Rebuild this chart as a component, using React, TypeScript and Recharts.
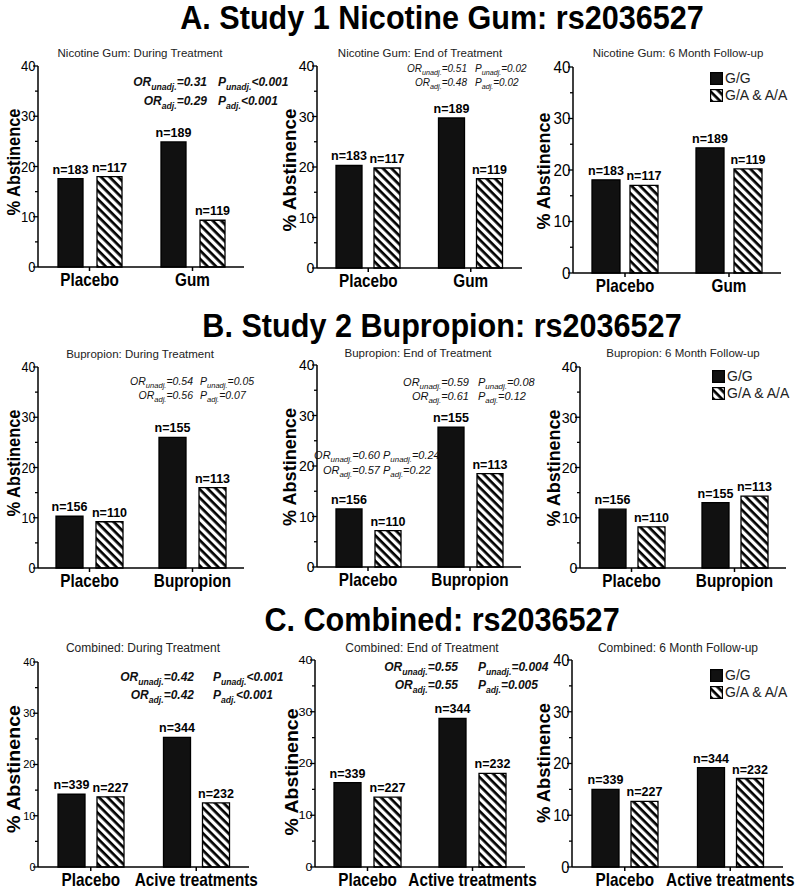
import React from 'react';
import { BarChart, Bar, XAxis, YAxis, LabelList, Legend } from 'recharts';

const FONT = '"Liberation Sans", Arial, Helvetica, sans-serif';

// categories
const catsGum = ['Placebo', 'Gum'];
const catsBup = ['Placebo', 'Bupropion'];
const catsComb = ['Placebo', 'Active treatments'];
const catsCombFirst = ['Placebo', 'Acive treatments']; // spelled this way in the printed panel

const seriesKeys = ['gg', 'ga'];
const seriesNames = ['G/G', 'G/A & A/A'];
const yTicks = [0, 5, 10, 15, 20, 25, 30, 35, 40];

// sample sizes
const nGumGG = [183, 189];
const nGumGA = [117, 119];
const nBupGG = [156, 155];
const nBupGA = [110, 113];
const nCombGG = [339, 344];
const nCombGA = [227, 232];

// % abstinence, study 1 nicotine gum
const gumDuringGG = [17.6, 24.9];
const gumDuringGA = [18.0, 9.3];
const gumEndGG = [20.3, 29.7];
const gumEndGA = [19.8, 17.7];
const gumFollowGG = [18.1, 24.3];
const gumFollowGA = [17.0, 20.2];

// % abstinence, study 2 bupropion
const bupDuringGG = [10.3, 26.0];
const bupDuringGA = [9.2, 16.0];
const bupEndGG = [11.5, 27.7];
const bupEndGA = [7.2, 18.5];
const bupFollowGG = [11.7, 13.0];
const bupFollowGA = [8.2, 14.3];

// % abstinence, combined
const combDuringGG = [14.2, 25.3];
const combDuringGA = [13.7, 12.5];
const combEndGG = [16.3, 28.7];
const combEndGA = [13.5, 18.1];
const combFollowGG = [15.0, 19.2];
const combFollowGA = [12.7, 17.1];

type Note = { orEnd: number; pStart: number; y: number; sub: string; or: string; p: string };
type NoteBlock = { size: number; bold: boolean; lines: Note[] };

type PanelCfg = {
  id: string;
  title: string;
  cats: string[];
  gg: number[];
  ga: number[];
  ggN: number[];
  gaN: number[];
  box: { left: number; top: number; width: number; height: number };
  plot: { x0: number; x1: number; y40: number; y0: number };
  bar: [number, number];
  tick: [number, number];
  yLab: [number, number, number];
  titleAt: [number, number, number];
  legend?: [number, number];
  notes: NoteBlock[];
};

const panels: PanelCfg[] = [
  {
    id: 'a1', title: 'Nicotine Gum: During Treatment', cats: catsGum,
    gg: gumDuringGG, ga: gumDuringGA, ggN: nGumGG, gaN: nGumGA,
    box: { left: 0, top: 40, width: 265, height: 260 }, plot: { x0: 38, x1: 244, y40: 66, y0: 267 },
    bar: [25, 14], tick: [14.5, 0.9], yLab: [13, 162, 107], titleAt: [140, 57, 11.5],
    notes: [{ size: 12, bold: true, lines: [
      { orEnd: 207, pStart: 218, y: 86, sub: 'unadj.', or: '=0.31', p: '<0.001' },
      { orEnd: 207, pStart: 218, y: 105, sub: 'adj.', or: '=0.29', p: '<0.001' },
    ] }],
  },
  {
    id: 'a2', title: 'Nicotine Gum: End of Treatment', cats: catsGum,
    gg: gumEndGG, ga: gumEndGA, ggN: nGumGG, gaN: nGumGA,
    box: { left: 265, top: 40, width: 265, height: 260 }, plot: { x0: 317, x1: 522, y40: 66, y0: 268 },
    bar: [26, 12], tick: [15, 0.95], yLab: [289, 170, 123], titleAt: [420, 57, 11.5],
    notes: [{ size: 10, bold: false, lines: [
      { orEnd: 467, pStart: 475, y: 72, sub: 'unadj.', or: '=0.51', p: '=0.02' },
      { orEnd: 467, pStart: 475, y: 86, sub: 'adj.', or: '=0.48', p: '=0.02' },
    ] }],
  },
  {
    id: 'a3', title: 'Nicotine Gum: 6 Month Follow-up', cats: catsGum,
    gg: gumFollowGG, ga: gumFollowGA, ggN: nGumGG, gaN: nGumGA,
    box: { left: 530, top: 40, width: 270, height: 260 }, plot: { x0: 573, x1: 781, y40: 67, y0: 273 },
    bar: [28, 10], tick: [16, 0.95], yLab: [543, 171, 117], titleAt: [678, 57, 11.5],
    legend: [710, 72], notes: [],
  },
  {
    id: 'b1', title: 'Bupropion: During Treatment', cats: catsBup,
    gg: bupDuringGG, ga: bupDuringGA, ggN: nBupGG, gaN: nBupGA,
    box: { left: 0, top: 330, width: 265, height: 260 }, plot: { x0: 38, x1: 244, y40: 367, y0: 568 },
    bar: [27, 13], tick: [14, 0.9], yLab: [13, 463, 107], titleAt: [140, 358, 11.5],
    notes: [{ size: 10.5, bold: false, lines: [
      { orEnd: 193, pStart: 200, y: 385, sub: 'unadj.', or: '=0.54', p: '=0.05' },
      { orEnd: 193, pStart: 200, y: 399, sub: 'adj.', or: '=0.56', p: '=0.07' },
    ] }],
  },
  {
    id: 'b2', title: 'Bupropion: End of Treatment', cats: catsBup,
    gg: bupEndGG, ga: bupEndGA, ggN: nBupGG, gaN: nBupGA,
    box: { left: 265, top: 330, width: 265, height: 260 }, plot: { x0: 317, x1: 521, y40: 365, y0: 567 },
    bar: [26, 13], tick: [14, 1.0], yLab: [289, 467, 118], titleAt: [418, 357, 11.5],
    notes: [
      { size: 11, bold: false, lines: [
        { orEnd: 469, pStart: 478, y: 386, sub: 'unadj.', or: '=0.59', p: '=0.08' },
        { orEnd: 469, pStart: 478, y: 400, sub: 'adj.', or: '=0.61', p: '=0.12' },
      ] },
      { size: 11, bold: false, lines: [
        { orEnd: 380, pStart: 383, y: 459, sub: 'unadj.', or: '=0.60', p: '=0.24' },
        { orEnd: 380, pStart: 383, y: 474, sub: 'adj.', or: '=0.57', p: '=0.22' },
      ] },
    ],
  },
  {
    id: 'b3', title: 'Bupropion: 6 Month Follow-up', cats: catsBup,
    gg: bupFollowGG, ga: bupFollowGA, ggN: nBupGG, gaN: nBupGA,
    box: { left: 530, top: 330, width: 270, height: 260 }, plot: { x0: 580, x1: 786, y40: 367, y0: 568 },
    bar: [27, 12], tick: [15, 0.95], yLab: [553, 468, 117], titleAt: [683, 357, 11.5],
    legend: [712, 370], notes: [],
  },
  {
    id: 'c1', title: 'Combined: During Treatment', cats: catsCombFirst,
    gg: combDuringGG, ga: combDuringGA, ggN: nCombGG, gaN: nCombGA,
    box: { left: 0, top: 620, width: 265, height: 269 }, plot: { x0: 38, x1: 249, y40: 662, y0: 867 },
    bar: [27, 12], tick: [11, 1.0], yLab: [13, 769, 128], titleAt: [143, 652, 12],
    notes: [{ size: 12, bold: true, lines: [
      { orEnd: 194, pStart: 213, y: 681, sub: 'unadj.', or: '=0.42', p: '<0.001' },
      { orEnd: 194, pStart: 213, y: 699, sub: 'adj.', or: '=0.42', p: '<0.001' },
    ] }],
  },
  {
    id: 'c2', title: 'Combined: End of Treatment', cats: catsComb,
    gg: combEndGG, ga: combEndGA, ggN: nCombGG, gaN: nCombGA,
    box: { left: 265, top: 620, width: 265, height: 269 }, plot: { x0: 315, x1: 525, y40: 660, y0: 867 },
    bar: [27, 13], tick: [11, 1.15], yLab: [291, 772, 127], titleAt: [422, 652, 12],
    notes: [{ size: 12, bold: true, lines: [
      { orEnd: 458, pStart: 478, y: 671, sub: 'unadj.', or: '=0.55', p: '=0.004' },
      { orEnd: 458, pStart: 478, y: 689, sub: 'adj.', or: '=0.55', p: '=0.005' },
    ] }],
  },
  {
    id: 'c3', title: 'Combined: 6 Month Follow-up', cats: catsComb,
    gg: combFollowGG, ga: combFollowGA, ggN: nCombGG, gaN: nCombGA,
    box: { left: 530, top: 620, width: 270, height: 269 }, plot: { x0: 572, x1: 783, y40: 660, y0: 867 },
    bar: [27, 12], tick: [16, 0.92], yLab: [543, 763, 120], titleAt: [678, 652, 12],
    legend: [710, 669], notes: [],
  },
];

const mainTitles = [
  { text: 'A. Study 1 Nicotine Gum: rs2036527', y: 29 },
  { text: 'B. Study 2 Bupropion: rs2036527', y: 337 },
  { text: 'C. Combined: rs2036527', y: 631 },
];

function Hatch({ id }: { id: string }) {
  return (
    <pattern id={id} patternUnits="userSpaceOnUse" width={6} height={6} patternTransform="rotate(45)">
      <rect x={0} y={0} width={6} height={6} fill="#fff" />
      <rect x={0} y={0} width={6} height={2.7} fill="#000" />
    </pattern>
  );
}

function SText({ x, y, sx = 1, anchor = 'middle', size, weight = 'normal', children }: any) {
  return (
    <text
      transform={`translate(${x},${y}) scale(${sx},1)`}
      textAnchor={anchor}
      fontSize={size}
      fontWeight={weight}
      fontFamily={FONT}
      fill="#000"
    >
      {children}
    </text>
  );
}

function YTick(props: any) {
  const { x, y, payload, fs, sx } = props;
  const major = payload.value % 10 === 0;
  return (
    <g>
      {major && (
        <SText x={x - 2.5} y={y + fs * 0.36} sx={sx} anchor="end" size={fs}>
          {payload.value}
        </SText>
      )}
      <line x1={x - (major ? 5 : 3)} x2={x} y1={y} y2={y} stroke="#000" strokeWidth={1.3} />
    </g>
  );
}

function XTick(props: any) {
  const { x, y, payload } = props;
  return (
    <SText x={x} y={y + 15} sx={0.85} size={18} weight="bold">
      {payload.value}
    </SText>
  );
}

function NLabel(props: any) {
  const { x, y, width, value } = props;
  return (
    <text
      x={Number(x) + Number(width) / 2}
      y={Number(y) - 5}
      textAnchor="middle"
      fontSize={12.5}
      fontWeight="bold"
      fontFamily={FONT}
      fill="#000"
    >
      n={value}
    </text>
  );
}

function LegendBox({ id, payload }: any) {
  const items = (payload && payload.length ? payload.slice() : seriesKeys.map((k, i) => ({ dataKey: k, value: seriesNames[i] })))
    .sort((a: any, b: any) => seriesKeys.indexOf(a.dataKey) - seriesKeys.indexOf(b.dataKey));
  return (
    <div style={{ position: 'relative', width: 90, height: 34, fontFamily: FONT }}>
      {items.map((it: any, i: number) => (
        <div key={i} style={{ position: 'absolute', left: 0, top: i * 16.5, height: 16 }}>
          <svg width={13} height={13} style={{ position: 'absolute', left: 0, top: 0 }}>
            <defs>
              <Hatch id={`lg-${id}`} />
            </defs>
            <rect
              x={0.6}
              y={0.6}
              width={11.8}
              height={11.8}
              fill={it.dataKey === 'gg' ? '#111' : `url(#lg-${id})`}
              stroke="#000"
              strokeWidth={1.2}
            />
          </svg>
          <span
            style={{
              position: 'absolute',
              left: 15,
              top: -2,
              fontSize: 14,
              lineHeight: '16px',
              whiteSpace: 'nowrap',
              color: '#222',
            }}
          >
            {it.value}
          </span>
        </div>
      ))}
    </div>
  );
}

function Panel({ p }: { p: PanelCfg }) {
  const { box, plot } = p;
  const data = p.cats.map((c, i) => ({
    cat: c,
    gg: p.gg[i],
    ga: p.ga[i],
    ggN: p.ggN[i],
    gaN: p.gaN[i],
  }));
  const hatchId = `hatch-${p.id}`;
  return (
    <div style={{ position: 'absolute', left: box.left, top: box.top }}>
      <BarChart
        width={box.width}
        height={box.height}
        data={data}
        margin={{ top: plot.y40 - box.top, right: box.left + box.width - plot.x1, left: 0, bottom: 0 }}
        barSize={p.bar[0]}
        barGap={p.bar[1]}
      >
        <defs>
          <Hatch id={hatchId} />
        </defs>
        <XAxis
          dataKey="cat"
          type="category"
          height={box.top + box.height - plot.y0}
          interval={0}
          tickSize={4}
          tickMargin={0}
          axisLine={{ stroke: '#000', strokeWidth: 1.5 }}
          tickLine={{ stroke: '#000', strokeWidth: 1.5 }}
          tick={<XTick />}
        />
        <YAxis
          type="number"
          domain={[0, 40]}
          ticks={yTicks}
          interval={0}
          width={plot.x0 - box.left}
          tickSize={0}
          tickMargin={0}
          tickLine={false}
          axisLine={{ stroke: '#000', strokeWidth: 1.5 }}
          tick={(props: any) => <YTick {...props} fs={p.tick[0]} sx={p.tick[1]} />}
        />
        <Bar dataKey="gg" name={seriesNames[0]} fill="#111" stroke="#000" strokeWidth={1.3} isAnimationActive={false}>
          <LabelList dataKey="ggN" content={NLabel} />
        </Bar>
        <Bar dataKey="ga" name={seriesNames[1]} fill={`url(#${hatchId})`} stroke="#000" strokeWidth={1.3} isAnimationActive={false}>
          <LabelList dataKey="gaN" content={NLabel} />
        </Bar>
        {p.legend && (
          <Legend
            layout="vertical"
            align="center"
            verticalAlign="middle"
            wrapperStyle={{
              position: 'absolute',
              left: p.legend[0] - box.left,
              top: p.legend[1] - box.top,
              width: 'auto',
              height: 'auto',
            }}
            content={(lp: any) => <LegendBox id={p.id} payload={lp.payload} />}
          />
        )}
      </BarChart>
    </div>
  );
}

function Notes({ block }: { block: NoteBlock }) {
  const sub = block.size * 0.72;
  const dy = block.size * 0.3;
  const common = {
    fontSize: block.size,
    fontWeight: block.bold ? 'bold' : 'normal',
    fontStyle: 'italic',
    fontFamily: FONT,
    fill: '#111',
  } as any;
  return (
    <g>
      {block.lines.map((l, i) => (
        <g key={i}>
          <text x={l.orEnd} y={l.y} textAnchor="end" {...common}>
            OR
            <tspan fontSize={sub} dy={dy}>{l.sub}</tspan>
            <tspan dy={-dy}>{l.or}</tspan>
          </text>
          <text x={l.pStart} y={l.y} textAnchor="start" {...common}>
            P
            <tspan fontSize={sub} dy={dy}>{l.sub}</tspan>
            <tspan dy={-dy}>{l.p}</tspan>
          </text>
        </g>
      ))}
    </g>
  );
}

export default function App() {
  return (
    <div style={{ position: 'absolute', left: 0, top: 0, width: 800, height: 889, background: '#fff', overflow: 'hidden' }}>
      <style>{'.recharts-surface { overflow: visible; }'}</style>
      {panels.map((p) => (
        <Panel key={p.id} p={p} />
      ))}
      <svg
        width={800}
        height={889}
        style={{ position: 'absolute', left: 0, top: 0, pointerEvents: 'none' }}
      >
        {mainTitles.map((t) => (
          <SText key={t.text} x={442} y={t.y} sx={0.9} size={34} weight="bold">
            {t.text}
          </SText>
        ))}
        {panels.map((p) => (
          <g key={p.id}>
            <text
              x={p.titleAt[0]}
              y={p.titleAt[1]}
              textAnchor="middle"
              fontSize={p.titleAt[2]}
              fontFamily={FONT}
              fill="#222"
            >
              {p.title}
            </text>
            <text
              transform={`translate(${p.yLab[0]},${p.yLab[1]}) rotate(-90)`}
              textAnchor="middle"
              dominantBaseline="central"
              fontSize={19}
              fontWeight="bold"
              fontFamily={FONT}
              textLength={p.yLab[2]}
              lengthAdjust="spacingAndGlyphs"
              fill="#000"
            >
              % Abstinence
            </text>
            {p.notes.map((b, i) => (
              <Notes key={i} block={b} />
            ))}
          </g>
        ))}
      </svg>
    </div>
  );
}
